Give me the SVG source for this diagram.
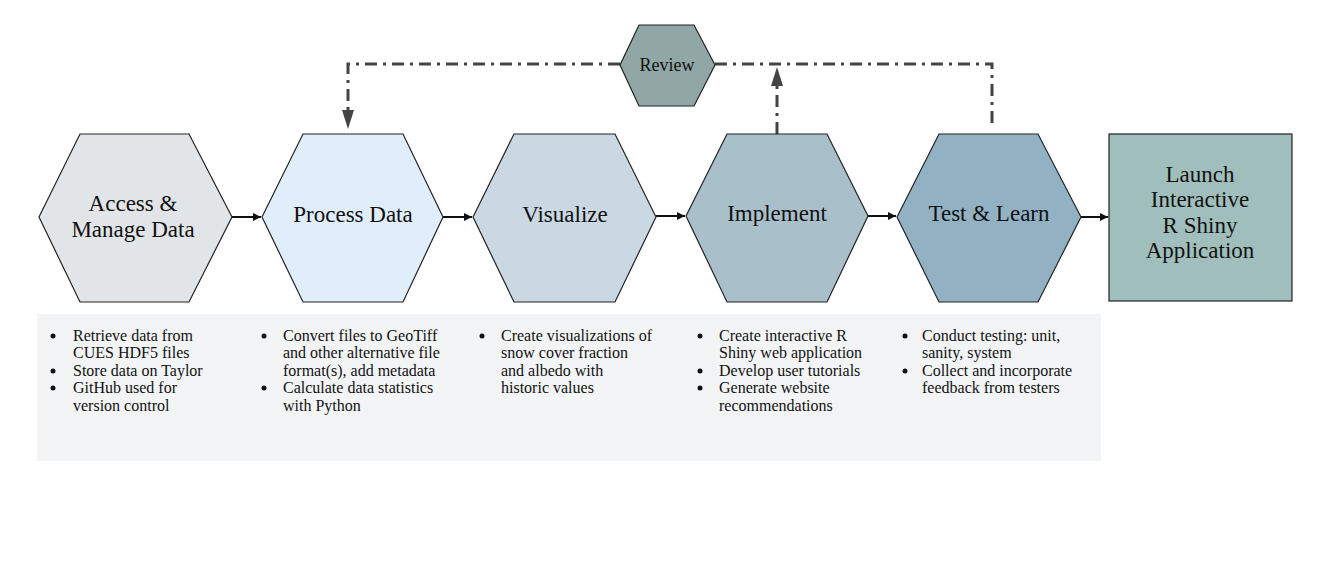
<svg xmlns="http://www.w3.org/2000/svg" width="1334" height="573" viewBox="0 0 1334 573">
<style>
.hex{stroke:#222;stroke-width:1.2}
.title{font-family:"Liberation Serif",serif;font-size:23px;fill:#111;text-anchor:middle}
.body{font-family:"Liberation Serif",serif;font-size:16px;fill:#111}
.flow{stroke:#111;stroke-width:2;fill:none}
.loop{stroke:#444;stroke-width:3;fill:none;stroke-dasharray:12 6 3 6}
</style>
<defs>
<marker id="ah" viewBox="0 0 10 10" refX="10" refY="5" markerWidth="10" markerHeight="8" markerUnits="userSpaceOnUse" orient="auto">
<path d="M0,0 L10,5 L0,10 z" fill="#111"/>
</marker>
</defs>
<rect width="1334" height="573" fill="#fff"/>
<rect id="notes-bg" x="37" y="314" width="1064" height="147" fill="#f3f4f6"/>
<g id="connectors">
<line class="flow" x1="232" y1="217" x2="261" y2="217" marker-end="url(#ah)"/>
<line class="flow" x1="443" y1="217" x2="472" y2="217" marker-end="url(#ah)"/>
<line class="flow" x1="656" y1="216" x2="685" y2="216" marker-end="url(#ah)"/>
<line class="flow" x1="868" y1="216" x2="896" y2="216" marker-end="url(#ah)"/>
<line class="flow" x1="1081" y1="217" x2="1108" y2="217" marker-end="url(#ah)"/>
<polyline class="loop" points="620,64 348,64 348,112"/>
<polygon points="342,110 354,110 348,129" fill="#444"/>
<polyline class="loop" points="715,64 992,64 992,128"/>
<line class="loop" x1="777" y1="134" x2="777" y2="86"/>
<polygon points="771,86 783,86 777,67" fill="#444"/>
</g>
<g id="review">
<polygon class="hex" points="620,65 639,25 694,25 715,65 694,106 639,106" fill="#90a7a6"/>
<text x="667" y="71" style="font-family:'Liberation Serif',serif;font-size:18px;fill:#111;text-anchor:middle">Review</text>
</g>
<g id="access">
<polygon class="hex" points="39,217 80,134 189,134 232,217 189,302 80,302" fill="#e2e5e8"/>
<text class="title" x="133" y="211">Access &amp;</text>
<text class="title" x="133" y="237">Manage Data</text>
</g>
<g id="process">
<polygon class="hex" points="262,217 303,134 403,134 443,217 403,302 303,302" fill="#dfeefa"/>
<text class="title" x="353" y="222">Process Data</text>
</g>
<g id="visualize">
<polygon class="hex" points="473,217 514,134 615,134 656,217 615,302 514,302" fill="#c9d8e2"/>
<text class="title" x="565" y="222">Visualize</text>
</g>
<g id="implement">
<polygon class="hex" points="686,216 727,134 827,134 868,216 827,302 727,302" fill="#a9bfca"/>
<text class="title" x="777" y="221">Implement</text>
</g>
<g id="test">
<polygon class="hex" points="897,217 939,134 1038,134 1081,217 1038,302 939,302" fill="#92b2c4"/>
<text class="title" x="989" y="221">Test &amp; Learn</text>
</g>
<g id="launch">
<rect class="hex" x="1109" y="134" width="183" height="167" fill="#a0bfbc"/>
<text class="title" x="1200" y="182">Launch</text>
<text class="title" x="1200" y="207">Interactive</text>
<text class="title" x="1200" y="233">R Shiny</text>
<text class="title" x="1200" y="258">Application</text>
</g>
<g id="notes" class="body">
<g id="notes-access">
<circle cx="53" cy="336" r="2.5" fill="#111"/><circle cx="53" cy="371" r="2.5" fill="#111"/><circle cx="53" cy="388" r="2.5" fill="#111"/>
<text x="73" y="341">Retrieve data from</text>
<text x="73" y="358">CUES HDF5 files</text>
<text x="73" y="376">Store data on Taylor</text>
<text x="73" y="393">GitHub used for</text>
<text x="73" y="411">version control</text>
</g>
<g id="notes-process">
<circle cx="264" cy="336" r="2.5" fill="#111"/><circle cx="264" cy="388" r="2.5" fill="#111"/>
<text x="283" y="341">Convert files to GeoTiff</text>
<text x="283" y="358">and other alternative file</text>
<text x="283" y="376">format(s), add metadata</text>
<text x="283" y="393">Calculate data statistics</text>
<text x="283" y="411">with Python</text>
</g>
<g id="notes-visualize">
<circle cx="482" cy="336" r="2.5" fill="#111"/>
<text x="501" y="341">Create visualizations of</text>
<text x="501" y="358">snow cover fraction</text>
<text x="501" y="376">and albedo with</text>
<text x="501" y="393">historic values</text>
</g>
<g id="notes-implement">
<circle cx="700" cy="336" r="2.5" fill="#111"/><circle cx="700" cy="371" r="2.5" fill="#111"/><circle cx="700" cy="388" r="2.5" fill="#111"/>
<text x="719" y="341">Create interactive R</text>
<text x="719" y="358">Shiny web application</text>
<text x="719" y="376">Develop user tutorials</text>
<text x="719" y="393">Generate website</text>
<text x="719" y="411">recommendations</text>
</g>
<g id="notes-test">
<circle cx="905" cy="336" r="2.5" fill="#111"/><circle cx="905" cy="371" r="2.5" fill="#111"/>
<text x="922" y="341">Conduct testing: unit,</text>
<text x="922" y="358">sanity, system</text>
<text x="922" y="376">Collect and incorporate</text>
<text x="922" y="393">feedback from testers</text>
</g>
</g>
</svg>
